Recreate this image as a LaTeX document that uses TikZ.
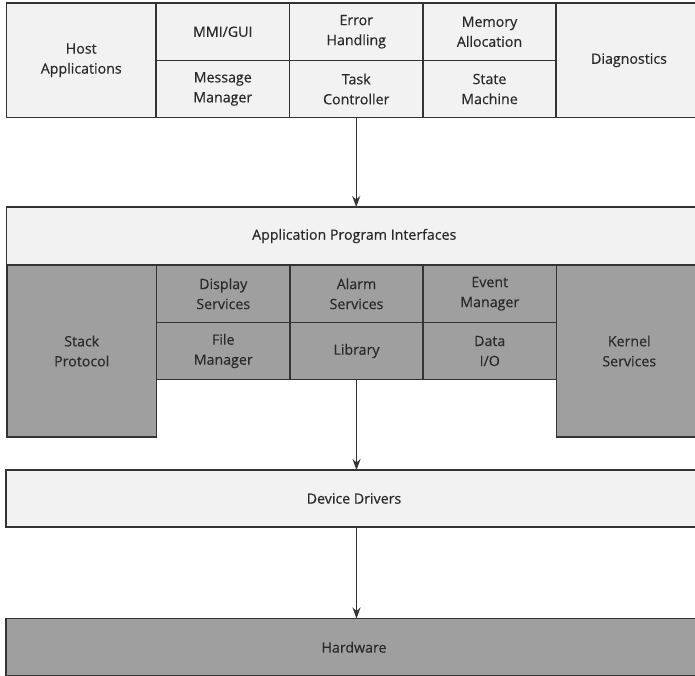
\documentclass[tikz,border=0pt]{standalone}
\usepackage{fontspec}
\setmainfont{Open Sans}
\newfontfamily\labelfont{Open Sans}[FakeBold=0.45]
\usetikzlibrary{arrows.meta}
\definecolor{lightfill}{HTML}{F2F2F2}
\definecolor{darkfill}{HTML}{9F9F9F}
\definecolor{edge}{HTML}{333333}
\definecolor{ink}{HTML}{2A2A2A}
\tikzset{
  cell/.style={draw=edge, line width=1.6pt, inner sep=0pt, outer sep=0pt,
    align=center, text=ink, font=\labelfont\fontsize{14.2}{20}\selectfont},
  lightcell/.style={cell, fill=lightfill},
  darkcell/.style={cell, fill=darkfill},
  flow/.style={draw=edge, line width=1.5pt, -{Stealth[length=11pt,width=8pt]}}
}
% Place a box by its corners: #1 style, #2 name, (#3,#4) top-left, (#5,#6) bottom-right, #7 text
\newcommand{\layerbox}[7]{%
  \node[#1, minimum width={#5-#3}, minimum height={#6-#4}] (#2)
    at ({(#3+#5)/2},{-(#4+#6)/2}) {#7};}
\begin{document}
\begin{tikzpicture}[x=1pt,y=1pt]
\useasboundingbox (0,0) rectangle (695,-675);
\clip (0,0) rectangle (695,-675);
\fill[white] (0,0) rectangle (695,-675);
% host layer
\layerbox{lightcell}{host}{6.5}{3}{156}{117.5}{Host\\Applications}
\layerbox{lightcell}{mmi}{156}{3}{289.5}{60.5}{MMI/GUI}
\layerbox{lightcell}{err}{289.5}{3}{423}{60.5}{Error\\Handling}
\layerbox{lightcell}{mem}{423}{3}{556}{60.5}{Memory\\Allocation}
\layerbox{lightcell}{msg}{156}{60.5}{289.5}{117.5}{Message\\Manager}
\layerbox{lightcell}{task}{289.5}{60.5}{423}{117.5}{Task\\Controller}
\layerbox{lightcell}{state}{423}{60.5}{556}{117.5}{State\\Machine}
\layerbox{lightcell}{diag}{556}{3}{702}{117.5}{Diagnostics}
% interface and services layer
\layerbox{lightcell}{api}{6.5}{207}{702}{265}{Application Program Interfaces}
\layerbox{darkcell}{stack}{7}{265}{156.5}{437}{Stack\\Protocol}
\layerbox{darkcell}{disp}{156.5}{265}{290}{322.5}{Display\\Services}
\layerbox{darkcell}{alarm}{290}{265}{423}{322.5}{Alarm\\Services}
\layerbox{darkcell}{event}{423}{265}{556.5}{322.5}{Event\\Manager}
\layerbox{darkcell}{file}{156.5}{322.5}{290}{379.5}{File\\Manager}
\layerbox{darkcell}{lib}{290}{322.5}{423}{379.5}{Library}
\layerbox{darkcell}{data}{423}{322.5}{556.5}{379.5}{Data\\I/O}
\layerbox{darkcell}{kernel}{556.5}{265}{702}{437}{Kernel\\Services}
% driver and hardware layers
\layerbox{lightcell}{dd}{6}{470}{702}{527}{Device Drivers}
\layerbox{darkcell}{hw}{6}{618.5}{702}{676}{Hardware}
% connectors
\draw[flow] (task.south) -- (task.south |- api.north);
\draw[flow] (lib.south) -- (lib.south |- dd.north);
\draw[flow] (lib.south |- dd.south) -- (lib.south |- hw.north);
\end{tikzpicture}
\end{document}
